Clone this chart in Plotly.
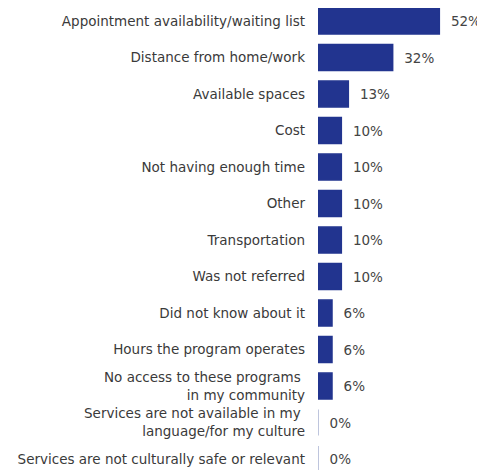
import plotly.graph_objects as go

# reasons / barriers, top to bottom
reasons = [
    "Appointment availability/waiting list",
    "Distance from home/work",
    "Available spaces",
    "Cost",
    "Not having enough time",
    "Other",
    "Transportation",
    "Was not referred",
    "Did not know about it",
    "Hours the program operates",
    "No access to these programs <br>in my community",
    "Services are not available in my <br>language/for my culture",
    "Services are not culturally safe or relevant",
]
percents = [52, 32, 13, 10, 10, 10, 10, 10, 6, 6, 6, 0, 0]

bar_color = "#22348f"
line_colors = [bar_color if p > 0 else "#a9b2d2" for p in percents]
font_family = "DejaVu Sans, Verdana, sans-serif"

fig = go.Figure(
    go.Bar(
        x=percents,
        y=list(range(len(reasons))),
        orientation="h",
        marker_color=bar_color,
        marker_line=dict(color=line_colors, width=1.5),
        text=percents,
        texttemplate="  %{x}%",
        textposition="outside",
        textfont=dict(family=font_family, size=13.5, color="#444444"),
        cliponaxis=False,
        hoverinfo="skip",
    )
)

# page body has an 8px margin, so the figure is a bit smaller than the window
fig.update_layout(
    width=477,
    height=462,
    margin=dict(l=310, r=27, t=0, b=0),
    paper_bgcolor="white",
    plot_bgcolor="white",
    bargap=0.29,
    showlegend=False,
    font=dict(family=font_family, size=13.5, color="#3a3a3a"),
)
fig.update_xaxes(range=[0, 60], visible=False)
fig.update_yaxes(
    tickmode="array",
    tickvals=list(range(len(reasons))),
    ticktext=reasons,
    range=[12.3, -0.356],
    showgrid=False,
    zeroline=False,
    showline=False,
    ticks="",
    ticklabelstandoff=12,
    automargin=False,
)

fig.write_html("out.html")
